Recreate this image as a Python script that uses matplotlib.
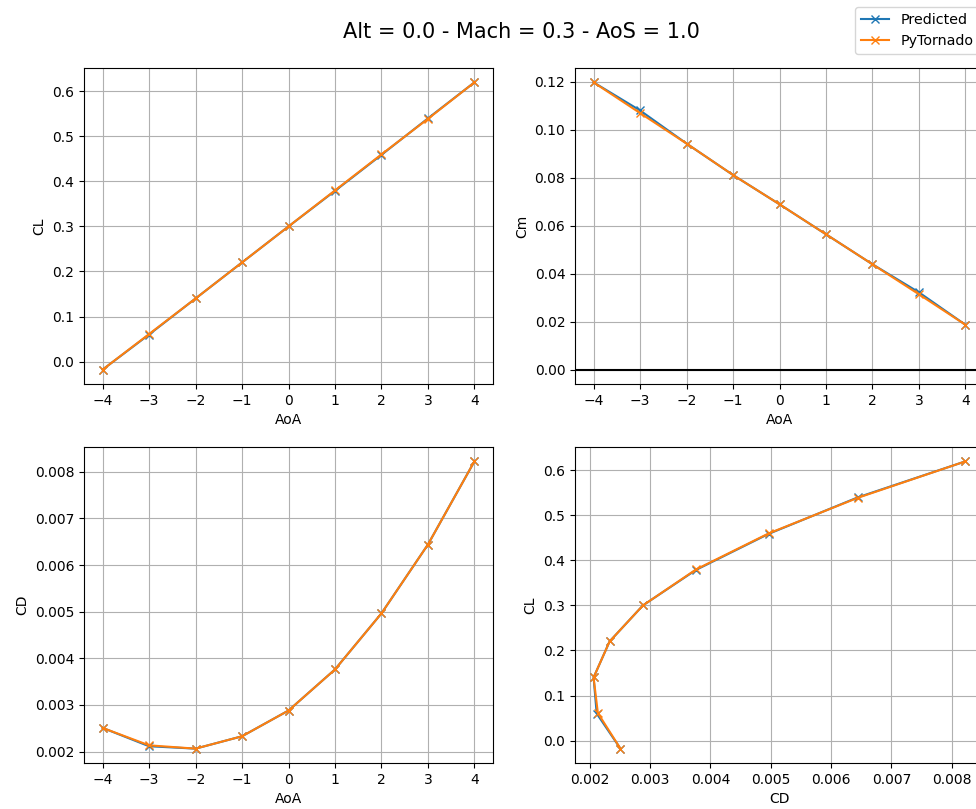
import numpy as np
import matplotlib
matplotlib.use('Agg')
import matplotlib.pyplot as plt

# angle of attack sweep
aoa = [-4, -3, -2, -1, 0, 1, 2, 3, 4]

cl_pred = [-0.018, 0.060, 0.140, 0.220, 0.300, 0.379, 0.459, 0.540, 0.620]
cl_pyt = [-0.018, 0.061, 0.140, 0.220, 0.300, 0.380, 0.460, 0.539, 0.620]

cm_pred = [0.1197, 0.1080, 0.0942, 0.0811, 0.0689, 0.0564, 0.0439, 0.0322, 0.0187]
cm_pyt = [0.1197, 0.1069, 0.0942, 0.0811, 0.0689, 0.0564, 0.0439, 0.0314, 0.0187]

cd_pred = [0.002509, 0.002115, 0.002064, 0.002329, 0.002881, 0.003762, 0.004965, 0.006441, 0.008225]
cd_pyt = [0.002509, 0.002135, 0.002064, 0.002329, 0.002881, 0.003762, 0.004965, 0.006441, 0.008225]

title = 'Alt = 0.0 - Mach = 0.3 - AoS = 1.0'

W, H = 976, 809
fig = plt.figure(figsize=(W / 100, H / 100), dpi=100)


def box(x0, y0, x1, y1):
    # pixel box -> figure fraction
    return [x0 / W, 1 - y1 / H, (x1 - x0) / W, (y1 - y0) / H]


ax1 = fig.add_axes(box(84, 68, 493, 384))
ax2 = fig.add_axes(box(575, 68, 984, 384))
ax3 = fig.add_axes(box(84, 447, 493, 763))
ax4 = fig.add_axes(box(575, 447, 984, 763))

ax1.plot(aoa, cl_pred, marker='x', label='Predicted')
ax1.plot(aoa, cl_pyt, marker='x', label='PyTornado')
ax1.set_xlabel('AoA')
ax1.set_ylabel('CL')

ax2.plot(aoa, cm_pred, marker='x')
ax2.plot(aoa, cm_pyt, marker='x')
ax2.axhline(0, color='k')
ax2.set_xlabel('AoA')
ax2.set_ylabel('Cm')

ax3.plot(aoa, cd_pred, marker='x')
ax3.plot(aoa, cd_pyt, marker='x')
ax3.set_xlabel('AoA')
ax3.set_ylabel('CD')

ax4.plot(cd_pred, cl_pred, marker='x')
ax4.plot(cd_pyt, cl_pyt, marker='x')
ax4.set_xlabel('CD')
ax4.set_ylabel('CL')

for ax in [ax1, ax2, ax3, ax4]:
    ax.grid(True)
for ax in [ax1, ax2, ax3]:
    ax.set_xticks(aoa)
    ax.set_xlim(-4.4, 4.4)
ax4.set_xticks([0.002, 0.003, 0.004, 0.005, 0.006, 0.007, 0.008])
ax4.set_xlim(min(cd_pyt) - 0.05 * (max(cd_pyt) - min(cd_pyt)),
             max(cd_pyt) + 0.05 * (max(cd_pyt) - min(cd_pyt)))

fig.suptitle(title, fontsize=15, x=521 / W, y=1 - 32 / H, va='center')
fig.legend(loc='upper left', bbox_to_anchor=(855 / W, 1 - 7 / H), borderaxespad=0,
           fontsize=10.3)

plt.savefig('out.png', dpi=100)
